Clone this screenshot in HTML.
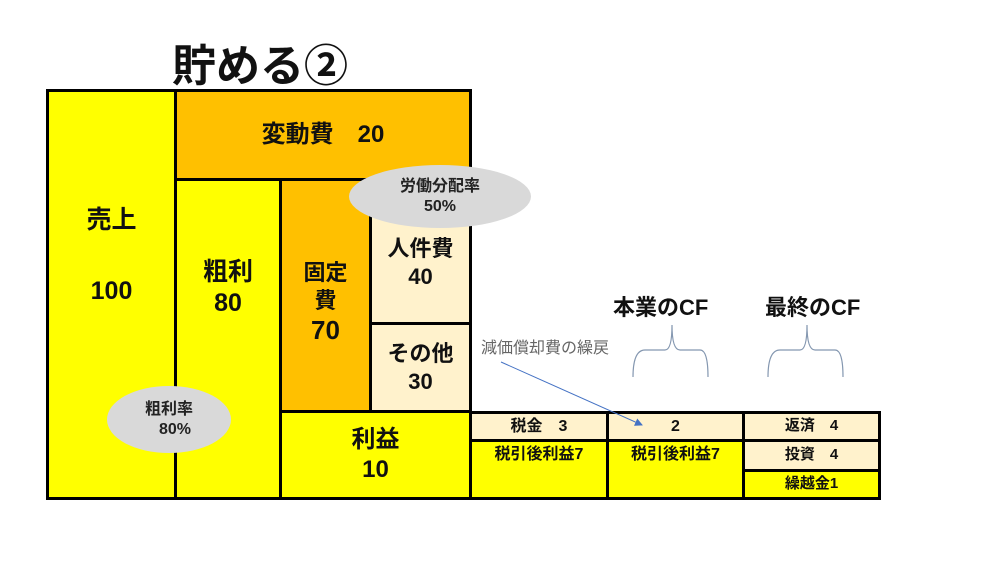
<!DOCTYPE html>
<html><head><meta charset="utf-8"><style>
body{margin:0;width:1000px;height:563px;background:#fff;position:relative;overflow:hidden;font-family:"Liberation Sans","Noto Sans CJK JP",sans-serif;}
.b{position:absolute;box-sizing:border-box;border:3px solid #000;display:flex;flex-direction:column;align-items:center;justify-content:center;font-weight:bold;color:#111;text-align:center;line-height:1.25;}
.y{background:#FFFF00}.o{background:#FFC000}.c{background:#FFF2CC}
.t{position:absolute;font-weight:bold;color:#111;}
.el{position:absolute;background:#D9D9D9;border-radius:50%;display:flex;flex-direction:column;align-items:center;justify-content:center;font-weight:bold;color:#222;line-height:1.2;}
</style></head><body>
<div class="t" style="left:172px;top:30px;font-size:44px;">貯める②</div>
<div class="b y" style="left:46px;top:89px;width:131px;height:411px;font-size:25px;justify-content:flex-start;padding-top:113px;"><div>売上</div><div style="margin-top:40px">100</div></div>
<div class="b o" style="left:174px;top:89px;width:298px;height:92px;font-size:24px;">変動費　20</div>
<div class="b y" style="left:174px;top:178px;width:108px;height:322px;font-size:25px;justify-content:flex-start;padding-top:76px;"><div>粗利</div><div>80</div></div>
<div class="b o" style="left:279px;top:178px;width:93px;height:235px;font-size:22px;justify-content:flex-start;padding-top:78px;"><div>固定</div><div>費</div><div style="font-size:26px">70</div></div>
<div class="b c" style="left:369px;top:178px;width:103px;height:147px;font-size:22px;justify-content:flex-start;padding-top:54px;"><div>人件費</div><div>40</div></div>
<div class="b c" style="left:369px;top:322px;width:103px;height:91px;font-size:22px;"><div>その他</div><div>30</div></div>
<div class="b y" style="left:279px;top:410px;width:193px;height:90px;font-size:24px;"><div>利益</div><div>10</div></div>
<div class="b c" style="left:469px;top:411px;width:140px;height:31px;font-size:16px;">税金　3</div>
<div class="b y" style="left:469px;top:439px;width:140px;height:61px;font-size:16px;justify-content:flex-start;padding-top:3px;">税引後利益7</div>
<div class="b c" style="left:606px;top:411px;width:139px;height:31px;font-size:16px;">2</div>
<div class="b y" style="left:606px;top:439px;width:139px;height:61px;font-size:16px;justify-content:flex-start;padding-top:3px;">税引後利益7</div>
<div class="b c" style="left:742px;top:411px;width:139px;height:31px;font-size:15px;">返済　4</div>
<div class="b c" style="left:742px;top:439px;width:139px;height:33px;font-size:15px;">投資　4</div>
<div class="b y" style="left:742px;top:469px;width:139px;height:31px;font-size:15px;">繰越金1</div>
<div class="el" style="left:349px;top:165px;width:182px;height:63px;font-size:16px;"><div>労働分配率</div><div>50%</div></div>
<div class="el" style="left:107px;top:386px;width:124px;height:67px;font-size:16px;"><div>粗利率</div><div style="margin-left:12px">80%</div></div>
<div class="t" style="left:613px;top:290px;font-size:22px;">本業のCF</div>
<div class="t" style="left:765px;top:290px;font-size:22px;">最終のCF</div>
<div class="t" style="left:481px;top:334px;font-size:16px;font-weight:normal;color:#666;">減価償却費の繰戻</div>
<svg style="position:absolute;left:0;top:0" width="1000" height="563">
<defs><marker id="a" markerWidth="8" markerHeight="8" refX="7" refY="4" orient="auto"><path d="M0,0 L8,4 L0,8z" fill="#4472C4"/></marker></defs>
<line x1="501" y1="362" x2="642" y2="425" stroke="#4472C4" stroke-width="1" marker-end="url(#a)"/>
<path d="M633,377 Q633,350 645,350 L665,350 Q672,350 672,325 Q672,350 680,350 L700,350 Q708,350 708,377" fill="none" stroke="#8497B0" stroke-width="1.2"/>
<path d="M768,377 Q768,350 780,350 L800,350 Q807,350 807,325 Q807,350 815,350 L835,350 Q843,350 843,377" fill="none" stroke="#8497B0" stroke-width="1.2"/>
</svg>
</body></html>
